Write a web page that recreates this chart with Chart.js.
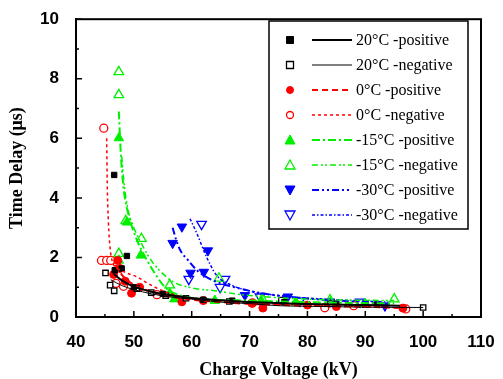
<!DOCTYPE html>
<html>
<head>
<meta charset="utf-8">
<script src="https://cdn.jsdelivr.net/npm/chart.js@4.4.1/dist/chart.umd.min.js"></script>
<style>
html, body { margin: 0; padding: 0; background: #fff; }
#wrap { width: 503px; height: 379px; }
</style>
</head>
<body>
<div id="wrap"><canvas id="delayChart" width="503" height="379"></canvas></div>
<script>
// axis ticks
const xTicks = [40, 50, 60, 70, 80, 90, 100, 110];
const yTicks = [0, 2, 4, 6, 8, 10];

const seriesLabels = ['20°C -positive', '20°C -negative', '0°C -positive', '0°C -negative',
    '-15°C -positive', '-15°C -negative', '-30°C -positive', '-30°C -negative'];

// measured points [kV, µs]
const pts20pos = [[46.6, 4.77], [48.8, 2.05], [46.7, 1.57], [47.9, 1.63], [50, 1.0], [55, 0.78], [62, 0.58], [67, 0.55], [76, 0.5], [85, 0.45], [92, 0.42]];
const pts20neg = [[45.1, 1.48], [45.9, 1.07], [46.6, 0.88], [50.5, 0.95], [53, 0.82], [55.5, 0.72], [59, 0.63], [66.5, 0.52], [75.5, 0.57], [84, 0.45], [90, 0.42], [100, 0.32]];
const pts0pos = [[46.5, 1.43], [47.6, 1.63], [47.2, 1.9], [48.5, 1.2], [49.6, 0.8], [51, 1.0], [58.3, 0.51], [62, 0.55], [70.4, 0.46], [72.3, 0.3], [80, 0.4], [85, 0.35], [96.5, 0.3]];
const pts0neg = [[44.8, 6.34], [44.4, 1.9], [45.3, 1.9], [46.0, 1.9], [46.9, 1.13], [48.2, 1.03], [54, 0.75], [70.5, 0.47], [83, 0.31], [88, 0.38], [97, 0.27]];
const ptsM15pos = [[47.4, 6.01], [47.4, 1.9], [48.8, 3.18], [51.2, 2.07], [56.2, 0.8], [57, 0.6], [64, 0.55], [72, 0.55], [78, 0.5], [84, 0.5], [90, 0.45]];
const ptsM15neg = [[47.4, 8.23], [47.4, 7.46], [47.4, 2.13], [48.6, 3.23], [51.3, 2.63], [56.2, 1.07], [64.7, 1.3], [72.3, 0.57], [83.9, 0.57], [95, 0.6]];
const ptsM30pos = [[58.3, 3.03], [56.7, 2.48], [62.8, 2.23], [59.8, 1.48], [62.1, 1.51], [69.2, 0.73], [76.6, 0.68], [83.9, 0.51], [93.4, 0.37]];
const ptsM30neg = [[61.7, 3.12], [59.5, 1.27], [65.75, 1.27], [64.9, 1.0], [71.8, 0.68], [78.7, 0.54], [89.1, 0.51]];

// fitted curves
const fit20pos = [[46.5, 1.45], [48, 1.22], [50, 1.02], [53, 0.85], [56, 0.74], [60, 0.64], [65, 0.56], [70, 0.5], [80, 0.44], [90, 0.4], [96, 0.38]];
const fit20neg = [[46, 1.25], [48, 1.05], [50, 0.92], [53, 0.78], [56, 0.68], [60, 0.6], [65, 0.5], [70, 0.45], [75, 0.38], [80, 0.36], [90, 0.33], [100, 0.32]];
const fit0pos = [[46.8, 1.75], [48, 1.4], [50, 1.08], [53, 0.85], [56, 0.7], [60, 0.58], [65, 0.5], [70, 0.44], [80, 0.38], [90, 0.34], [97, 0.3]];
const fit0neg = [[45.3, 6.0], [45.4, 4.5], [45.6, 3.2], [45.9, 2.3], [46.3, 1.85], [47, 1.65], [48.5, 1.5], [50.5, 1.35], [52.5, 1.12], [55, 0.88], [58, 0.7], [62, 0.58], [70, 0.47], [80, 0.4], [90, 0.35], [97, 0.3]];
const fitM15pos = [[47.4, 6.9], [47.8, 5.3], [48.3, 4.2], [49.2, 3.35], [50.5, 2.6], [52, 2.0], [53.1, 1.63], [55.4, 1.0], [58.5, 0.7], [62, 0.6], [70, 0.55], [80, 0.5], [95, 0.45]];
const fitM15neg = [[47.9, 5.4], [48.3, 4.5], [49, 3.6], [50, 3.0], [51.5, 2.4], [53, 1.9], [54.5, 1.55], [56.8, 1.18], [60.2, 0.97], [64, 0.88], [69.5, 0.73], [80, 0.6], [95, 0.55]];
const fitM30pos = [[56.7, 3.0], [57.3, 2.6], [58, 2.25], [59.4, 1.9], [61, 1.55], [62.5, 1.35], [64.3, 1.18], [67.8, 0.98], [72, 0.8], [80, 0.62], [90, 0.5], [94, 0.45]];
const fitM30neg = [[59.7, 3.3], [60.9, 2.8], [62.6, 2.0], [64.3, 1.4], [66.9, 1.07], [69.5, 0.9], [75, 0.72], [85, 0.58], [94, 0.5]];

const allPoints = [pts20pos, pts20neg, pts0pos, pts0neg, ptsM15pos, ptsM15neg, ptsM30pos, ptsM30neg];
const allFits = [fit20pos, fit20neg, fit0pos, fit0neg, fitM15pos, fitM15neg, fitM30pos, fitM30neg];

const styles = [
    { color: '#000000', shape: 'rect', filled: true, width: 2, dash: [] },
    { color: '#000000', shape: 'rect', filled: false, width: 1, dash: [] },
    { color: '#ff0000', shape: 'circle', filled: true, width: 2, dash: [6, 4] },
    { color: '#ff0000', shape: 'circle', filled: false, width: 1.5, dash: [3, 3] },
    { color: '#00f000', shape: 'triangle', filled: true, width: 2, dash: [8, 3, 2, 3] },
    { color: '#00f000', shape: 'triangle', filled: false, width: 1.5, dash: [6, 3, 2, 2, 2, 3] },
    { color: '#0000ff', shape: 'down', filled: true, width: 2, dash: [7, 3, 2, 3, 2, 3] },
    { color: '#0000ff', shape: 'down', filled: false, width: 1.5, dash: [3, 2, 1.5, 2] }
];

function toXY(arr) {
    return arr.map(p => ({ x: p[0], y: p[1] }));
}

const datasets = [];
allFits.forEach((fit, i) => {
    const s = styles[i];
    datasets.push({
        type: 'line',
        data: toXY(fit),
        borderColor: s.color,
        borderWidth: s.width,
        borderDash: s.dash,
        pointRadius: 0,
        fill: false,
        tension: 0.4,
        cubicInterpolationMode: 'monotone'
    });
});
allPoints.forEach((pts, i) => {
    const s = styles[i];
    datasets.push({
        type: 'scatter',
        data: toXY(pts),
        pointStyle: s.shape === 'down' ? 'triangle' : s.shape,
        rotation: s.shape === 'down' ? 180 : 0,
        pointRadius: s.shape === 'rect' ? 3.8 : (s.shape === 'circle' ? 4 : 5.5),
        backgroundColor: s.filled ? s.color : '#ffffff',
        borderColor: s.color,
        borderWidth: s.filled ? 1 : 1.3
    });
});

function drawMarker(ctx, s, x, y) {
    ctx.save();
    ctx.setLineDash([]);
    ctx.lineWidth = s.filled ? 1 : 1.3;
    ctx.strokeStyle = s.color;
    ctx.fillStyle = s.filled ? s.color : '#fff';
    ctx.beginPath();
    if (s.shape === 'rect') {
        ctx.rect(x - 3.5, y - 3.5, 7, 7);
    } else if (s.shape === 'circle') {
        ctx.arc(x, y, 3.5, 0, Math.PI * 2);
    } else if (s.shape === 'triangle') {
        ctx.moveTo(x, y - 5); ctx.lineTo(x + 5, y + 4); ctx.lineTo(x - 5, y + 4); ctx.closePath();
    } else {
        ctx.moveTo(x, y + 5); ctx.lineTo(x + 5, y - 4); ctx.lineTo(x - 5, y - 4); ctx.closePath();
    }
    ctx.fill();
    ctx.stroke();
    ctx.restore();
}

const framePlugin = {
    id: 'frame',
    afterDraw(chart) {
        const ctx = chart.ctx;
        const a = chart.chartArea;
        const xs = chart.scales.x, ys = chart.scales.y;
        ctx.save();
        // box
        ctx.strokeStyle = '#000';
        ctx.lineWidth = 2;
        ctx.strokeRect(a.left, a.top, a.right - a.left, a.bottom - a.top);
        // inward ticks
        ctx.lineWidth = 1.5;
        ctx.beginPath();
        for (let v = 40; v <= 110; v += 5) {
            const px = xs.getPixelForValue(v);
            const len = v % 10 === 0 ? 6 : 3;
            ctx.moveTo(px, a.bottom); ctx.lineTo(px, a.bottom - len);
        }
        for (let v = 0; v <= 10; v += 1) {
            const py = ys.getPixelForValue(v);
            const len = v % 2 === 0 ? 6 : 3;
            ctx.moveTo(a.left, py); ctx.lineTo(a.left + len, py);
        }
        ctx.stroke();

        // legend
        const lx = 269, ly = 21, lw = 199, lh = 208;
        ctx.fillStyle = '#fff';
        ctx.fillRect(lx, ly, lw, lh);
        ctx.lineWidth = 1.5;
        ctx.strokeRect(lx, ly, lw, lh);
        ctx.font = '16px "Liberation Serif"';
        ctx.textBaseline = 'middle';
        ctx.textAlign = 'left';
        seriesLabels.forEach((label, i) => {
            const s = styles[i];
            const y = 40 + i * 25;
            drawMarker(ctx, s, 290, y);
            ctx.save();
            ctx.strokeStyle = s.color;
            ctx.lineWidth = s.width;
            ctx.setLineDash(s.dash);
            ctx.beginPath();
            ctx.moveTo(312, y); ctx.lineTo(352, y);
            ctx.stroke();
            ctx.restore();
            ctx.fillStyle = '#000';
            ctx.fillText(label, 356, y + 1);
        });
        ctx.restore();
    }
};

new Chart(document.getElementById('delayChart').getContext('2d'), {
    data: { datasets: datasets },
    options: {
        responsive: false,
        animation: false,
        layout: { padding: { top: 17, right: 22, left: 0, bottom: 0 } },
        plugins: { legend: { display: false }, tooltip: { enabled: false } },
        scales: {
            x: {
                type: 'linear',
                min: 40,
                max: 110,
                afterFit: s => { s.height = 62; },
                afterBuildTicks: s => { s.ticks = xTicks.map(v => ({ value: v })); },
                grid: { display: false },
                border: { display: true, color: '#000', width: 2 },
                ticks: { color: '#000', padding: 7, font: { family: 'Liberation Sans', weight: 'bold', size: 17 } },
                title: {
                    display: true,
                    text: 'Charge Voltage (kV)',
                    color: '#000',
                    padding: { top: 0, bottom: 0 },
                    font: { family: 'Liberation Serif', weight: 'bold', size: 18, lineHeight: 1 }
                }
            },
            y: {
                type: 'linear',
                min: 0,
                max: 10,
                afterFit: s => { s.width = 76; },
                afterBuildTicks: s => { s.ticks = yTicks.map(v => ({ value: v })); },
                grid: { display: false },
                border: { display: true, color: '#000', width: 2 },
                ticks: { color: '#000', padding: 9, font: { family: 'Liberation Sans', weight: 'bold', size: 17 } },
                title: {
                    display: true,
                    text: 'Time Delay (μs)',
                    color: '#000',
                    padding: { top: 8, bottom: 0 },
                    font: { family: 'Liberation Serif', weight: 'bold', size: 18, lineHeight: 1 }
                }
            }
        }
    },
    plugins: [framePlugin]
});
</script>
</body>
</html>
